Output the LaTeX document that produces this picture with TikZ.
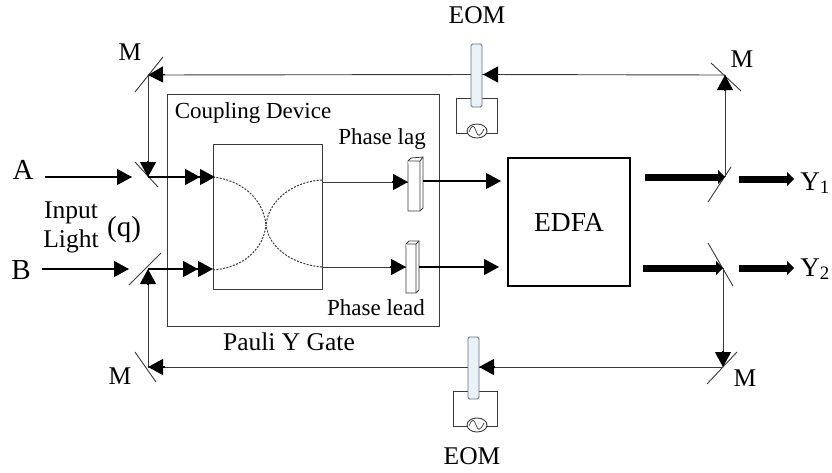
\documentclass[tikz,border=0pt]{standalone}
\usepackage{fontspec}
\setmainfont{Liberation Serif}
\usetikzlibrary{arrows.meta}
\definecolor{ln}{HTML}{3A3A3A}
\definecolor{rodfill}{HTML}{EAF2F8}
\definecolor{rodline}{HTML}{5F7284}
\tikzset{
  wire/.style={draw=ln,line width=0.9pt},
  sig/.style={draw=black,line width=1.1pt},
  tri/.style={-{Triangle[length=15pt,width=16pt]}},
  dbl/.style={-{Triangle[length=15pt,width=16pt]Triangle[length=15pt,width=16pt,sep=-2pt]}},
  thick arrow/.style={draw=black,line width=7pt,-{Triangle[length=7pt,width=14pt]}},
  mirror/.style={draw=ln,line width=0.9pt},
  frame/.style={draw=ln,line width=0.9pt,fill=none,inner sep=0pt,outer sep=0pt},
  txt/.style={inner sep=0pt,anchor=base},
  lab/.style={txt,font=\fontsize{25.5}{28}\selectfont},
  small/.style={txt,font=\fontsize{23}{26}\selectfont},
  big/.style={txt,font=\fontsize{29}{32}\selectfont},
  rod/.style={draw=rodline,line width=0.9pt,fill=rodfill,rounded corners=1.5pt},
  phase/.style={draw=ln,line width=0.8pt,fill=white},
  coupl/.style={draw=ln,line width=1pt,dash pattern=on 2pt off 1.4pt},
}
\begin{document}
\begin{tikzpicture}[x=1pt,y=-1pt]
\useasboundingbox[fill=white] (0,0) rectangle (832,472);
% frames
\node[frame,minimum width=272pt,minimum height=232pt] (pauli) at (303,210) {};
\node[frame,minimum width=109pt,minimum height=145pt] (coupler) at (267.5,216.5) {};
\node[frame,draw=black,line width=1.1pt,minimum width=122pt,minimum height=128pt] (edfa) at (569,222) {};
\node[txt,font=\fontsize{27.5}{30}\selectfont] (edfat) at (569,231) {EDFA};
% anchor points
\coordinate (tl) at (148,75);
\coordinate (tr) at (725,75);
\coordinate (bl) at (148,367);
\coordinate (br) at (723,367);
\coordinate (sa) at (148,177);
\coordinate (sb) at (148,269);
\coordinate (sy1) at (725,177);
\coordinate (sy2) at (723,268);
\coordinate (ain) at (45,177);
\coordinate (bin) at (42,269);
\coordinate (atip) at (132,177);
\coordinate (btip) at (129,269);
\coordinate (ca) at (213,177);
\coordinate (cb) at (211,269);
\coordinate (lagin) at (322,182);
\coordinate (lagtip) at (408,182);
\coordinate (lagout) at (423,181);
\coordinate (lagend) at (501,181);
\coordinate (leadin) at (322,267);
\coordinate (leadtip) at (406,267);
\coordinate (leadout) at (419,267);
\coordinate (leadend) at (499,267);
\coordinate (t1) at (645,177);
\coordinate (t2) at (643,268);
\coordinate (y1a) at (739,179);
\coordinate (y1b) at (794,179);
\coordinate (y2a) at (739,268);
\coordinate (y2b) at (794,268);
\coordinate (eomt) at (483,74.5);
\coordinate (eomb) at (479,367);
% couplers
\coordinate (cc) at (266,225);
\draw[coupl] (213,177) .. controls (240,180) and (263,197) .. (cc);
\draw[coupl] (213,270) .. controls (240,268) and (263,252) .. (cc);
\draw[coupl] (322,180) .. controls (296,181) and (269,198) .. (cc);
\draw[coupl] (322,267) .. controls (296,265) and (269,250) .. (cc);
% mirrors
\draw[mirror] (135,92) -- (163,57);
\draw[mirror] (135,162) -- (158,187);
\draw[mirror] (129,285) -- (161,253);
\draw[mirror] (135,352) -- (156,382);
\draw[mirror] (711,63) -- (741,91);
\draw[mirror] (708,202) -- (731,167);
\draw[mirror] (708,243) -- (733,286);
\draw[mirror] (707,384) -- (737,352);
% EOM circuits
\draw[wire] (456,98) -- (497,98) -- (497,133) -- (456,133) -- cycle;
\draw[wire] (453,391) -- (468,391) (479,391) -- (497,391) (497,391) -- (497,426) -- (453,426) -- (453,391);
\draw[wire,fill=white] (477,131) ellipse (10pt and 7pt);
\draw[wire,line width=0.7pt] (469,132) .. controls (472,124) and (474,125) .. (476,131) .. controls (478,137) and (480,137) .. (484,129);
\draw[wire,fill=white] (477,425) ellipse (10pt and 7pt);
\draw[wire,line width=0.7pt] (469,426) .. controls (472,418) and (474,419) .. (476,425) .. controls (478,431) and (480,431) .. (484,423);
% feedback lines
\draw[wire] (sy1) -- (tr);
\draw[wire] (sy2) -- (br);
\draw[wire] (tr) -- (eomt);
\draw[wire] (br) -- (eomb);
\draw[wire] (eomt) -- (tl);
\draw[wire] (eomb) -- (bl);
\draw[wire] (tl) -- (sa);
\draw[wire] (bl) -- (sb);
% rods
\draw[rod] (471,44) rectangle (482,107);
\draw[rod] (468,337) rectangle (479,399);
% arrowheads on wires
\draw[sig,tri] (500,74.5) -- (eomt);
\draw[sig,tri] (495,367) -- (eomb);
\draw[sig,tri] (165,74.5) -- (tl);
\draw[sig,tri] (165,367) -- (bl);
\draw[sig,tri] (148,161) -- (sa);
\draw[sig,tri] (148,285) -- (sb);
\draw[sig,tri] (725,91) -- (tr);
\draw[sig,tri] (723,351) -- (br);
% inputs
\draw[sig,tri] (ain) -- (atip);
\draw[sig,tri] (bin) -- (btip);
\draw[sig,dbl] (sa) -- (ca);
\draw[sig,dbl] (sb) -- (cb);
% phase elements
\draw[wire,line width=0.7pt] (lagin) -- (lagtip);
\draw[wire,line width=0.7pt] (leadin) -- (leadtip);
\draw[phase] (408,161) -- (411,158) -- (423,157) -- (423,208) -- (420,211) -- (408,211) -- cycle;
\draw[phase] (408,161) -- (420,161) -- (420,211) (420,161) -- (423,157);
\draw[phase] (406,244) -- (409,241) -- (419,241) -- (419,290) -- (416,293) -- (406,293) -- cycle;
\draw[phase] (406,244) -- (416,244) -- (416,293) (416,244) -- (419,241);
\draw[sig,tri] (392,182) -- (lagtip);
\draw[sig,tri] (390,267) -- (leadtip);
\draw[sig,tri] (lagout) -- (lagend);
\draw[sig,tri] (leadout) -- (leadend);
% thick arrows
\draw[thick arrow] (t1) -- (sy1);
\draw[thick arrow] (t2) -- (sy2);
\draw[thick arrow] (y1a) -- (y1b);
\draw[thick arrow] (y2a) -- (y2b);
% labels
\node[lab] (eom1) at (477,23) {EOM};
\node[lab] (eom2) at (472,464) {EOM};
\node[lab] (m1) at (130,60) {M};
\node[lab] (m2) at (742,67) {M};
\node[lab] (m3) at (120,384) {M};
\node[lab] (m4) at (745,386) {M};
\node[big] (la) at (23,179) {A};
\node[big] (lb) at (21,279) {B};
\node[lab] (inp) at (71,218) {Input};
\node[lab] (lgt) at (71,247) {Light};
\node[big] (q) at (124,236) {(q)};
\node[small] (cd) at (253,118) {Coupling Device};
\node[small] (plag) at (382,144) {Phase lag};
\node[small] (plead) at (376,315) {Phase lead};
\node[lab] (py) at (289,350) {Pauli Y Gate};
\node[txt,font=\fontsize{27}{30}\selectfont] (y1) at (815,190) {Y\textsubscript{1}};
\node[txt,font=\fontsize{27}{30}\selectfont] (y2) at (815,276) {Y\textsubscript{2}};
\end{tikzpicture}
\end{document}
